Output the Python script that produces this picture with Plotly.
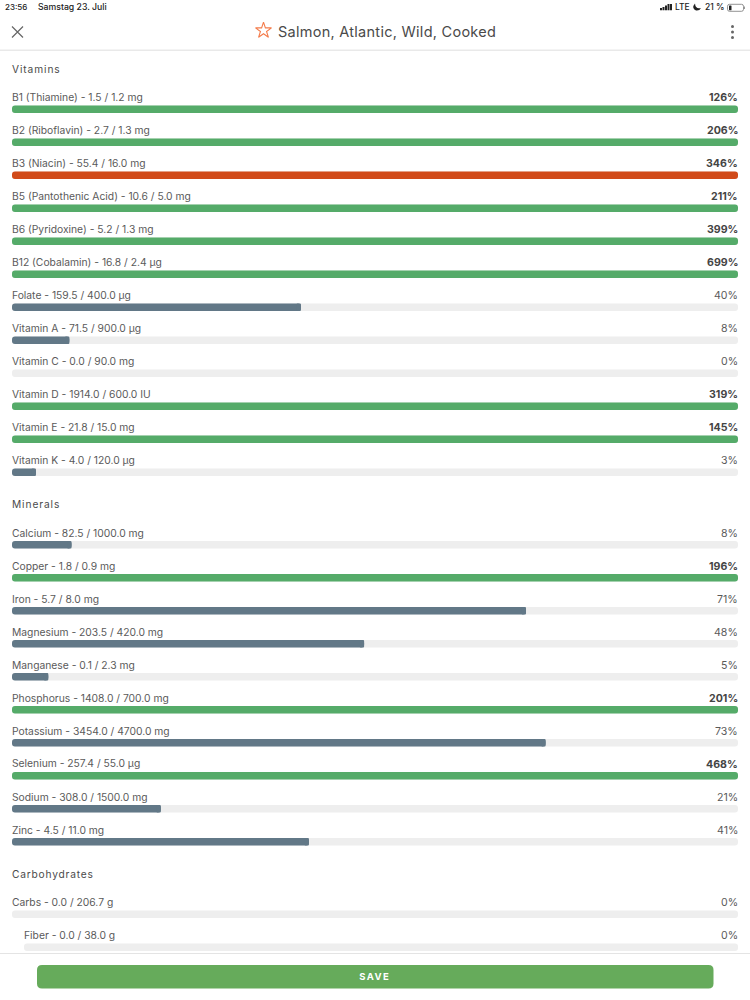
import plotly.graph_objects as go

# Values as shown on the nutrient screen
vitamin_names = ["B1 (Thiamine)", "B2 (Riboflavin)", "B3 (Niacin)", "B5 (Pantothenic Acid)", "B6 (Pyridoxine)",
                 "B12 (Cobalamin)", "Folate", "Vitamin A", "Vitamin C", "Vitamin D", "Vitamin E", "Vitamin K"]
vitamin_amounts = [1.5, 2.7, 55.4, 10.6, 5.2, 16.8, 159.5, 71.5, 0.0, 1914.0, 21.8, 4.0]
vitamin_targets = [1.2, 1.3, 16.0, 5.0, 1.3, 2.4, 400.0, 900.0, 90.0, 600.0, 15.0, 120.0]
vitamin_units = ["mg", "mg", "mg", "mg", "mg", "µg", "µg", "µg", "mg", "IU", "mg", "µg"]
vitamin_pcts = [126, 206, 346, 211, 399, 699, 40, 8, 0, 319, 145, 3]
vitamin_fills = [100, 100, 100, 100, 100, 100, 39.8, 7.9, 0, 100, 100, 3.3]

mineral_names = ["Calcium", "Copper", "Iron", "Magnesium", "Manganese", "Phosphorus", "Potassium", "Selenium",
                 "Sodium", "Zinc"]
mineral_amounts = [82.5, 1.8, 5.7, 203.5, 0.1, 1408.0, 3454.0, 257.4, 308.0, 4.5]
mineral_targets = [1000.0, 0.9, 8.0, 420.0, 2.3, 700.0, 4700.0, 55.0, 1500.0, 11.0]
mineral_units = ["mg", "mg", "mg", "mg", "mg", "mg", "mg", "µg", "mg", "mg"]
mineral_pcts = [8, 196, 71, 48, 5, 201, 73, 468, 21, 41]
mineral_fills = [8.2, 100, 70.8, 48.5, 5, 100, 73.5, 100, 20.5, 40.9]

carb_names = ["Carbs", "Fiber"]
carb_amounts = [0.0, 0.0]
carb_targets = [206.7, 38.0]
carb_units = ["g", "g"]
carb_pcts = [0, 0]
carb_fills = [0, 0]

over_limit = ["B3 (Niacin)"]
indented = ["Fiber"]

sections = [
    ("Vitamins", vitamin_names, vitamin_amounts, vitamin_targets, vitamin_units, vitamin_pcts, vitamin_fills),
    ("Minerals", mineral_names, mineral_amounts, mineral_targets, mineral_units, mineral_pcts, mineral_fills),
    ("Carbohydrates", carb_names, carb_amounts, carb_targets, carb_units, carb_pcts, carb_fills),
]

GREEN = "#55ab69"
RED = "#d14a19"
SLATE = "#627887"
TRACK = "#eeeeee"
TEXT = "#5a5a5a"
FONT = "Inter"
W, H = 750, 1000
LEFT, RIGHT = 12, 738
INDENT_UNITS = 12 / (RIGHT - LEFT) * 100
END_CAP = 0.6


def px(x, y):
    return x / W, 1 - y / H


def note(x, y, text, size=10.3, color=TEXT, anchor="left", weight=None):
    fx, fy = px(x, y)
    return dict(x=fx, y=fy, xref="paper", yref="paper", text=text, showarrow=False, xanchor=anchor,
                yanchor="middle", borderpad=0, borderwidth=0,
                font=dict(family=FONT, size=size, color=color, weight=weight))


def rect_path(x0, y0, x1, y1, r):
    a0, b0 = px(x0, y0)
    a1, b1 = px(x1, y1)
    rx, ry = r / W, r / H
    return (f"M{a0+rx},{b0} L{a1-rx},{b0} Q{a1},{b0} {a1},{b0-ry} L{a1},{b1+ry} Q{a1},{b1} {a1-rx},{b1} "
            f"L{a0+rx},{b1} Q{a0},{b1} {a0},{b1+ry} L{a0},{b0-ry} Q{a0},{b0} {a0+rx},{b0} Z")


rows_y, rows_base, rows_fill, rows_color = [], [], [], []
annotations = []
y = 68.7
for title, names, amounts, targets, units, pcts, fills in sections:
    annotations.append(note(LEFT, y, title, size=10.2, color="#4a4a4a"))
    y += 40.5
    for name, amount, target, unit, pct, fill in zip(names, amounts, targets, units, pcts, fills):
        base = INDENT_UNITS if name in indented else 0
        color = RED if name in over_limit else GREEN if pct >= 100 else SLATE
        rows_y.append(y)
        rows_base.append(base)
        rows_fill.append(fill)
        rows_color.append(color)
        label_x = LEFT + 12 if name in indented else LEFT
        annotations.append(note(label_x, y - 11.8, f"{name} - {amount:.1f} / {target:.1f} {unit}"))
        annotations.append(note(RIGHT, y - 11.5, f"{pct}%", anchor="right", size=10.6,
                                color="#444444" if pct >= 100 else TEXT, weight=700 if pct >= 100 else None))
        y += 33
    y -= 1

fig = go.Figure()
fig.add_trace(go.Bar(y=rows_y, x=[100 - b for b in rows_base], base=rows_base, orientation="h", width=7.5,
                     marker=dict(color=TRACK, cornerradius=4, line_width=0), hoverinfo="skip"))
fig.add_trace(go.Bar(y=rows_y, x=rows_fill, base=rows_base, orientation="h", width=7.5,
                     marker=dict(color=rows_color, cornerradius=4, line_width=0), hoverinfo="skip"))

# partial bars end nearly square on the right, a short second bar covers the rounded end
partial = [i for i, f in enumerate(rows_fill) if 0 < f < 100]
fig.add_trace(go.Bar(y=[rows_y[i] for i in partial], x=[END_CAP for i in partial],
                     base=[rows_fill[i] - END_CAP for i in partial], orientation="h", width=7.5,
                     marker=dict(color=[rows_color[i] for i in partial], cornerradius=1, line_width=0),
                     hoverinfo="skip"))

# toolbar and status bar
annotations += [
    note(5, 7, "23:56", size=8, color="#222222", weight=500),
    note(38, 7, "Samstag 23. Juli", size=8.7, color="#222222", weight=500),
    note(278, 31.5, "Salmon, Atlantic, Wild, Cooked", size=14.5, color="#4a4a4a"),
    note(675, 7, "LTE", size=8.5, color="#222222", weight=500),
    note(705, 7, "21 %", size=8.5, color="#222222", weight=500),
    note(375, 976, "SAVE", size=9.5, color="#ffffff", anchor="center", weight=700),
]

shapes = []


def add_rect(x0, y0, x1, y1, fill, r=0, line=None):
    shapes.append(dict(type="path", path=rect_path(x0, y0, x1, y1, r), xref="paper", yref="paper",
                       fillcolor=fill, line=dict(width=0.8 if line else 0, color=line or fill)))


add_rect(0, 49.6, W, 51, "#e9e9e9")
add_rect(0, 953, W, 954, "#e4e4e4")
add_rect(37, 965, 713.5, 988.5, "#66ab5b", r=5)
# signal bars
for i, top in enumerate([8, 7, 5.5, 4, 4]):
    add_rect(660 + i * 2.5, top, 662 + i * 2.5, 10.3, "#222222")
# battery
add_rect(727.5, 4.3, 743.5, 11.3, "#ffffff", r=2, line="#777777")
add_rect(729, 5.5, 731.5, 10.2, "#222222", r=0.5)
add_rect(744, 6.5, 745, 9, "#999999")
# moon
shapes.append(dict(type="path", xref="paper", yref="paper", fillcolor="#222222", line=dict(width=0),
                   path=f"M{px(695,3.5)[0]},{px(695,3.5)[1]} Q{px(691,8)[0]},{px(691,8)[1]} {px(696,10.5)[0]},{px(696,10.5)[1]} "
                        f"Q{px(699.5,11)[0]},{px(699.5,11)[1]} {px(701,8)[0]},{px(701,8)[1]} "
                        f"Q{px(695.5,9.5)[0]},{px(695.5,9.5)[1]} {px(695,3.5)[0]},{px(695,3.5)[1]} Z"))

# toolbar icons go on a second pair of pixel axes
fig.add_trace(go.Scatter(x=[263.5], y=[30.5], xaxis="x2", yaxis="y2", mode="markers", hoverinfo="skip",
                         marker=dict(symbol="star-open", size=12, color="#f47c4b", line=dict(width=1.1, color="#f47c4b"))))
fig.add_trace(go.Scatter(x=[17.5], y=[32], xaxis="x2", yaxis="y2", mode="markers", hoverinfo="skip",
                         marker=dict(symbol="x-thin-open", size=11, color="#666666", line=dict(width=1.2, color="#666666"))))
fig.add_trace(go.Scatter(x=[732.5, 732.5, 732.5], y=[26.5, 32, 37.5], xaxis="x2", yaxis="y2", mode="markers",
                         hoverinfo="skip", marker=dict(symbol="circle", size=3, color="#666666")))

fig.update_layout(
    width=W, height=H, margin=dict(l=0, r=0, t=0, b=0), paper_bgcolor="white", plot_bgcolor="rgba(0,0,0,0)",
    barmode="overlay", showlegend=False, annotations=annotations, shapes=shapes,
    xaxis=dict(domain=[LEFT / W, RIGHT / W], range=[0, 100], visible=False, fixedrange=True),
    yaxis=dict(domain=[0, 1], range=[H, 0], visible=False, fixedrange=True),
    xaxis2=dict(domain=[0, 1], range=[0, W], visible=False, anchor="y2", fixedrange=True),
    yaxis2=dict(domain=[0, 1], range=[H, 0], visible=False, anchor="x2", fixedrange=True),
)

# plotly has no letter spacing, and its annotation text is anchored in the middle
spacing_js = """
document.body.style.margin = '0';
var spacing = {'Vitamins': '0.9px', 'Minerals': '0.9px', 'Carbohydrates': '0.8px', 'SAVE': '1.4px',
               'Salmon, Atlantic, Wild, Cooked': '0.27px'};
document.querySelectorAll('.annotation-text').forEach(function (t) {
    var s = spacing[t.textContent];
    if (!s) { return; }
    var before = t.getComputedTextLength();
    t.style.letterSpacing = s;
    if (t.textContent !== 'SAVE') { t.setAttribute('dx', (t.getComputedTextLength() - before) / 2); }
});
"""

fig.write_html("out.html", post_script=spacing_js, config={"displayModeBar": False})
